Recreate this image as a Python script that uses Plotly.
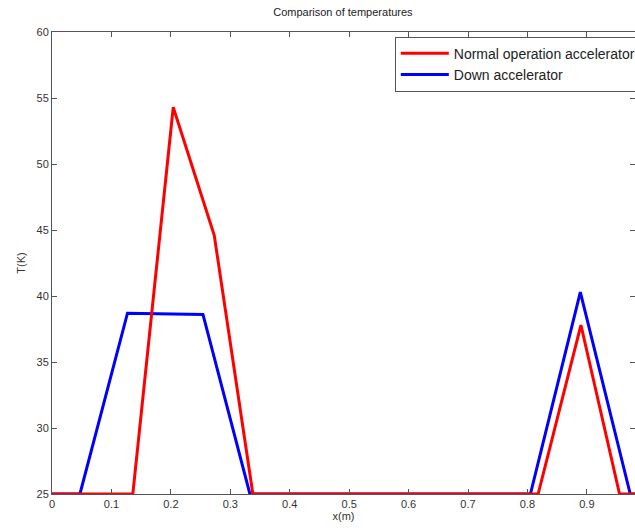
import plotly.graph_objects as go

# Data
x_normal = [0.0, 0.136, 0.204, 0.273, 0.338, 0.818, 0.890, 0.955, 1.0]
t_normal = [25.0, 25.0, 54.3, 44.6, 25.0, 25.0, 37.8, 25.0, 25.0]

x_down = [0.0, 0.047, 0.127, 0.254, 0.333, 0.805, 0.889, 0.973, 1.0]
t_down = [25.0, 25.0, 38.7, 38.6, 25.0, 25.0, 40.3, 25.0, 25.0]

x_ticks = [0, 0.1, 0.2, 0.3, 0.4, 0.5, 0.6, 0.7, 0.8, 0.9]
x_tick_labels = ["0", "0.1", "0.2", "0.3", "0.4", "0.5", "0.6", "0.7", "0.8", "0.9"]
y_ticks = [25, 30, 35, 40, 45, 50, 55, 60]

fig = go.Figure()
# blue drawn first so red lies on top (as in the reference); legend order kept via legendrank
fig.add_trace(go.Scatter(x=x_down, y=t_down, mode="lines",
                         name="Down accelerator", legendrank=2,
                         line=dict(color="#0000ff", width=3)))
fig.add_trace(go.Scatter(x=x_normal, y=t_normal, mode="lines",
                         name="Normal operation accelerator", legendrank=1,
                         line=dict(color="#ff0000", width=3)))

axis_common = dict(showgrid=False, zeroline=False, showline=True,
                   linecolor="#555555", linewidth=1, mirror="ticks",
                   ticks="inside", ticklen=5, tickcolor="#555555",
                   tickfont=dict(family="Liberation Sans, Arial", size=11, color="#333333"))

fig.update_layout(
    width=635, height=531,
    margin=dict(l=52, r=0, t=32, b=37, autoexpand=False),
    paper_bgcolor="white", plot_bgcolor="white",
    title=dict(text="Comparison of temperatures", x=0.54, xanchor="center",
               y=0.978, yanchor="middle",
               font=dict(family="Liberation Sans, Arial", size=11, color="#222222")),
    xaxis=dict(range=[0, 0.981], tickvals=x_ticks, ticktext=x_tick_labels,
               title=dict(text="x(m)", standoff=2,
                          font=dict(family="Liberation Sans, Arial", size=11, color="#333333")),
               **axis_common),
    yaxis=dict(range=[25, 60], tickvals=y_ticks,
               title=dict(text="T(K)", standoff=8,
                          font=dict(family="Liberation Sans, Arial", size=11, color="#333333")),
               **axis_common),
    legend=dict(x=0.588, y=0.99, xanchor="left", yanchor="top",
                bgcolor="white", bordercolor="#555555", borderwidth=1,
                font=dict(family="Liberation Sans, Arial", size=14, color="#222222"),
                tracegroupgap=0, itemwidth=48, traceorder="normal"),
    showlegend=True,
)

fig.write_html("out.html")
